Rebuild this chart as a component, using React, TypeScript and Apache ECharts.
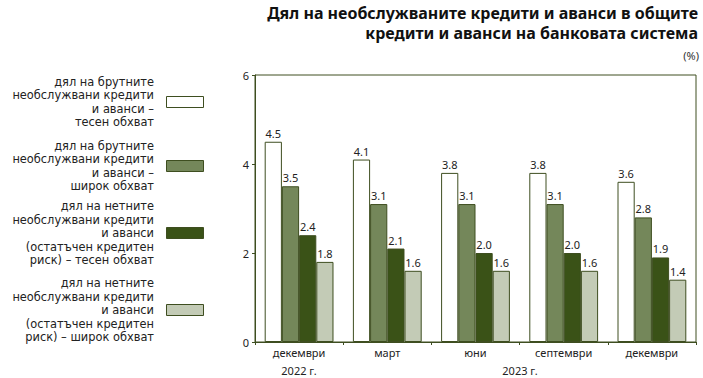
import React, { useEffect, useRef } from "react";
import * as echarts from "echarts";

const categories = ["декември", "март", "юни", "септември", "декември"];
const seriesNames = [
  "дял на брутните\nнеобслужвани кредити\nи аванси –\nтесен обхват",
  "дял на брутните\nнеобслужвани кредити\nи аванси –\nширок обхват",
  "дял на нетните\nнеобслужвани кредити\nи аванси\n(остатъчен кредитен\nриск) – тесен обхват",
  "дял на нетните\nнеобслужвани кредити\nи аванси\n(остатъчен кредитен\nриск) – широк обхват",
];
const grossNarrow = [4.5, 4.1, 3.8, 3.8, 3.6];
const grossBroad = [3.5, 3.1, 3.1, 3.1, 2.8];
const netNarrow = [2.4, 2.1, 2.0, 2.0, 1.9];
const netBroad = [1.8, 1.6, 1.6, 1.6, 1.4];
const yearLabels = ["2022 г.", "2023 г."];
const titleText = "Дял на необслужваните кредити и аванси в общите\nкредити и аванси на банковата система";
const unitText = "(%)";

const colors = ["#ffffff", "#74875a", "#3a5217", "#c3cbb6"];
const edge = "#3e4e20";
const font = "Noto Sans";
const legendFont = "DejaVu Sans";

export default function App() {
  const ref = useRef<HTMLDivElement>(null);
  useEffect(() => {
    document.body.style.margin = "0";
    if (!ref.current) return;
    const chart = echarts.init(ref.current, null, { renderer: "svg" });
    const data = [grossNarrow, grossBroad, netNarrow, netBroad];
    const legendCenters = [102, 166, 233, 310];
    const graphics: any[] = [];
    seriesNames.forEach((name, i) => {
      graphics.push({
        type: "text",
        x: 154,
        y: legendCenters[i],
        style: {
          text: name,
          align: "right",
          verticalAlign: "middle",
          font: `11.4px "${legendFont}"`,
          lineHeight: 13.5,
          fill: "#222",
        },
      });
      graphics.push({
        type: "rect",
        shape: { x: 166.5, y: legendCenters[i] - 5.5, width: 37, height: 11 },
        style: { fill: colors[i], stroke: edge, lineWidth: 1 },
      });
    });
    graphics.push({
      type: "text",
      x: 698,
      y: 3,
      style: {
        text: titleText,
        align: "right",
        verticalAlign: "top",
        font: `bold 16px "${font}"`,
        lineHeight: 20,
        fill: "#111",
      },
    });
    graphics.push({
      type: "text",
      x: 699,
      y: 55,
      style: { text: unitText, align: "right", verticalAlign: "middle", font: `11px "${font}"`, fill: "#333" },
    });
    graphics.push({
      type: "text",
      x: 299,
      y: 370,
      style: { text: yearLabels[0], align: "center", verticalAlign: "middle", font: `11px "${font}"`, fill: "#222" },
    });
    graphics.push({
      type: "text",
      x: 520,
      y: 370,
      style: { text: yearLabels[1], align: "center", verticalAlign: "middle", font: `11px "${font}"`, fill: "#222" },
    });

    chart.setOption({
      animation: false,
      textStyle: { fontFamily: font },
      grid: {
        left: 255,
        right: 7,
        top: 75,
        bottom: 36,
        show: true,
        borderColor: edge,
        borderWidth: 1,
        backgroundColor: "transparent",
      },
      xAxis: {
        type: "category",
        data: categories,
        axisLine: { lineStyle: { color: edge } },
        axisTick: { show: true, length: 3, lineStyle: { color: edge } },
        axisLabel: { color: "#222", fontSize: 11, margin: 5 },
      },
      yAxis: {
        type: "value",
        min: 0,
        max: 6,
        interval: 2,
        splitLine: { show: false },
        axisLine: { show: true, lineStyle: { color: edge } },
        axisTick: { show: true, length: 3, lineStyle: { color: edge } },
        axisLabel: { color: "#222", fontSize: 11, margin: 6 },
      },
      series: data.map((d, i) => ({
        type: "bar",
        name: seriesNames[i],
        data: d,
        barGap: "0%",
        barCategoryGap: "22%",
        itemStyle: { color: colors[i], borderColor: edge, borderWidth: 1 },
        label: {
          show: true,
          position: "top",
          distance: 3,
          fontSize: 11,
          color: "#222",
          formatter: (p: any) => Number(p.value).toFixed(1),
        },
      })),
      graphic: graphics,
    });
    return () => chart.dispose();
  }, []);
  return <div ref={ref} style={{ width: 703, height: 378 }} />;
}
